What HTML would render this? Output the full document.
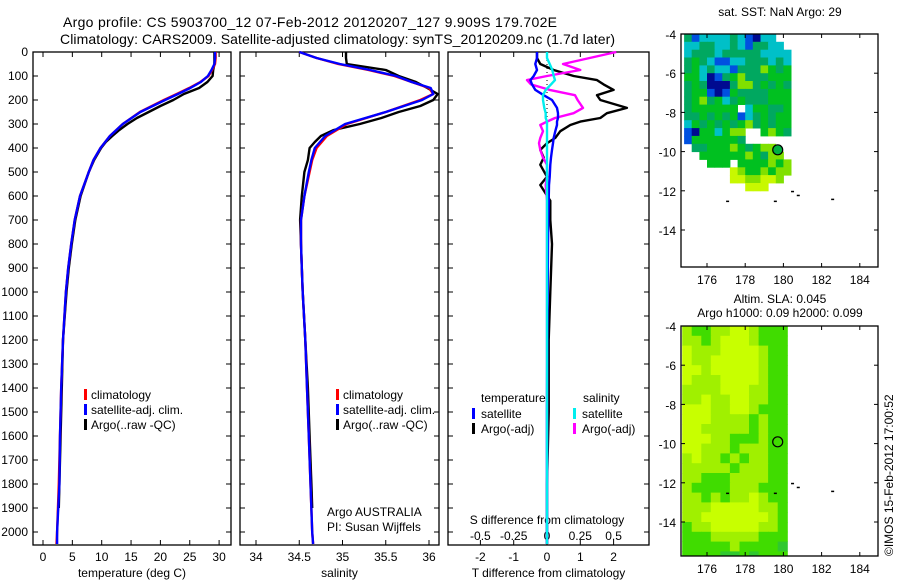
<!DOCTYPE html>
<html><head><meta charset="utf-8"><style>
html,body{margin:0;padding:0;background:#fff;}
svg{display:block;font-family:"Liberation Sans",sans-serif;}
text{fill:#000;}
</style></head><body>
<svg id="fig" width="900" height="580" viewBox="0 0 900 580" xmlns="http://www.w3.org/2000/svg">
<rect width="900" height="580" fill="#fff"/>
<text x="63" y="27" font-size="14" textLength="494">Argo profile: CS 5903700_12 07-Feb-2012 20120207_127 9.909S 179.702E</text>
<text x="60" y="44" font-size="14" textLength="555">Climatology: CARS2009. Satellite-adjusted climatology: synTS_20120209.nc (1.7d later)</text>
<g id="g1"></g>
<g id="g2"></g>
<g id="g3"></g>
<g id="m1"></g>
<g id="m2"></g>
<text transform="translate(893,556) rotate(-90)" font-size="12">©IMOS 15-Feb-2012 17:00:52</text>
</svg>
<script>
// ---- data ----
const depthTicks=[0,100,200,300,400,500,600,700,800,900,1000,1100,1200,1300,1400,1500,1600,1700,1800,1900,2000];
const tempTicks=[0,5,10,15,20,25,30];
const salTicks=[34,34.5,35,35.5,36];
const tdiffTicks=[-2,-1,0,1,2];
const sdiffTicks=[-0.5,-0.25,0,0.25,0.5];
const sdiffTickLabels=["-0.5","-0.25","0","0.25","0.5"];
const depthsClim=[0,25,50,75,100,125,150,175,200,250,300,350,400,450,500,600,700,800,900,1000,1200,1400,1600,1800,2000,2050];
const tempClim=[29.4,29.4,29.3,28.8,28.2,26.8,24.9,22.8,20.6,16.5,13.6,11.4,9.8,8.6,7.8,6.3,5.4,4.8,4.3,3.9,3.4,3.1,2.9,2.7,2.4,2.3];
const tempSat=[29.3,29.3,29.2,28.7,28.1,26.9,25.1,23.0,20.8,16.6,13.6,11.4,9.8,8.6,7.8,6.3,5.4,4.8,4.3,3.9,3.4,3.1,2.9,2.8,2.4,2.4];
const depthsArgo=[0,25,50,75,100,125,150,175,200,225,250,275,300,325,350,375,400,450,500,600,700,800,900,1000,1200,1400,1600,1800,1900];
const tempArgo=[29.2,29.2,29.2,29.0,28.9,28.0,26.6,24.0,22.2,20.0,18.0,16.0,14.4,13.0,11.8,10.7,9.9,8.7,7.8,6.4,5.5,4.9,4.4,4.0,3.4,3.2,3.0,2.8,2.7];
const salClim=[34.5,34.7,34.95,35.3,35.6,35.8,36.0,36.05,35.9,35.5,35.05,34.82,34.7,34.65,34.62,34.56,34.52,34.52,34.53,34.54,34.57,34.59,34.61,34.63,34.65,34.66];
const salSat=[34.5,34.7,34.97,35.32,35.62,35.8,36.02,36.05,35.92,35.5,35.03,34.8,34.68,34.64,34.61,34.56,34.52,34.52,34.53,34.54,34.57,34.59,34.61,34.63,34.65,34.66];
const salArgo=[35.04,35.04,35.05,35.5,35.65,35.85,35.98,36.1,36.05,35.9,35.65,35.45,35.2,34.9,34.75,34.68,34.62,34.6,34.56,34.53,34.51,34.52,34.53,34.54,34.57,34.6,34.62,34.64,34.65];
const depthsDiff=[0,25,50,75,100,117,135,158,180,200,233,255,275,290,304,330,358,380,408,440,470,520,554,620,700,800,1000,1200,1500,1800,2050];
const tdiffSat=[-0.3,-0.3,-0.35,-0.3,-0.4,-0.5,-0.45,-0.35,-0.1,0.15,0.3,0.33,0.33,0.3,0.3,0.25,0.2,0.18,0.15,0.12,0.1,0.08,0.06,0.05,0.04,0.03,0.02,0.01,0.0,0.0,0.0];
const tdiffArgo=[-0.3,-0.3,-0.2,0.2,0.8,1.5,1.7,2.0,1.5,1.6,2.4,1.8,1.6,1.0,0.7,0.4,0.25,0.0,-0.2,-0.1,-0.2,0.0,-0.2,0.1,0.1,0.15,0.1,0.05,0.05,0.0,0.0];
const sdiffSat=[0.0,0.0,0.02,0.04,0.05,0.06,0.03,-0.01,-0.03,-0.03,-0.02,-0.01,-0.01,0.0,0.0,0.0,0.0,0.0,0.0,0.0,0.0,0.0,0.0,0.0,0.0,0.0,0.0,0.0,0.0,0.0,0.0];
const sdiffArgo=[0.52,0.32,0.12,0.25,0.0,-0.15,-0.12,0.02,0.21,0.23,0.27,0.2,0.06,0.0,-0.05,-0.03,-0.05,-0.06,-0.05,-0.03,0.0,0.0,-0.01,0.0,0.0,0.0,0.0,0.0,0.0,0.0,0.0];
// SST map: 0.4 deg cells from lon 174.8, lat -4 downward
const sstRows=["tBcccctcBbcc..","ccttcctcBttcc.","ctttctttttcccc","tgtcBBcctttctc","tgctccBtttlgtg","ggcbBtgltttggg","tgtbbbtlltgtgt","tggBbBgttttggg","tgltgctgtttggg","tgggggg.cggttg","ttgtgtgBctgtgg","cgtgtgtgltgtgg","Bbggcgll..glgt","Bggggggt......",".ttggglgtgll..","..gggggglgtll.","...ggg.gggglgl","......ylgglgll","......yyllyyl.","........yyy..."];
const sstColors={b:"#000a90",B:"#0050e0",c:"#00c0c8",t:"#00a860",g:"#00c020",l:"#80e000",y:"#c8f800"};
// SLA map: 0.5 deg cells from lon 174.7, lat -4 downward
const slaRows=["mGGmmYYmGGG","mmGmYYYmGGG","YmmmYYYYmGG","YmmYYYYYmGG","YYmYYYYYmGG","YmmmYYYYmGG","mmmmYYYmmGG","mmYmmYYmmGG","YYYmmYYmGGG","YYYmmmmGmGG","YYmmmmmGmGG","YYYmmGGGmGG","YYmmmGmmmGG","mYmmGmGmmGG","mmmmmGmmmGG","mmGGGmmmmGG","mGGGGmmmGGG","mmGmGmmYmGG","mmmYYYYYmmG","mmYYYYYYYmG","GmmYYYYYmmG","GGGmmmmmGGG","GGGGGmGGGGD","GGGGDDGDGGG"];
const slaColors={G:"#40dc00",m:"#a0f000",Y:"#c8ff00",D:"#30c830"};
const lonTicks=[176,178,180,182,184];
const latTicks=[-4,-6,-8,-10,-12,-14];
const argoLon=179.702, argoLat=-9.909;

// ---- helpers ----
const NS="http://www.w3.org/2000/svg";
function mk(parent,tag,attrs){const e=document.createElementNS(NS,tag);for(const k in attrs)e.setAttribute(k,attrs[k]);parent.appendChild(e);return e;}
function txt(parent,x,y,s,size,anchor){const t=mk(parent,"text",{x:x,y:y,"font-size":size||12,"text-anchor":anchor||"start"});t.textContent=s;return t;}
const Y=d=>52+d*0.24;
const PT=52,PB=545;

function panel(g,L,R,xs,ticks,labels,title){
  const f=mk(g,"rect",{x:L,y:PT,width:R-L,height:PB-PT,fill:"none",stroke:"#000","stroke-width":1.3});
  
  
  ticks.forEach((v,i)=>{const x=xs(v);
    mk(g,"line",{x1:x,x2:x,y1:PB,y2:PB-5,stroke:"#000"});
    mk(g,"line",{x1:x,x2:x,y1:PT,y2:PT+5,stroke:"#000"});
    const t=txt(g,x,561,labels[i],12,"middle");
    
    });
  depthTicks.forEach(d=>{mk(g,"line",{x1:L,x2:L+5,y1:Y(d),y2:Y(d),stroke:"#000"});mk(g,"line",{x1:R,x2:R-5,y1:Y(d),y2:Y(d),stroke:"#000"});});
  const tt=txt(g,(L+R)/2,577,title,12,"middle");
  
  
}
function line(g,depths,vals,xs,color,name,w){
  const pts=depths.map((d,i)=>xs(vals[i]).toFixed(1)+","+Y(d).toFixed(1)).join(" ");
  const p=mk(g,"polyline",{points:pts,fill:"none",stroke:color,"stroke-width":w||2.4,"stroke-linejoin":"round"});
  
  
}
function legend(g,x,items){
  items.forEach((it,i)=>{const y=398+15*i;
    const b=mk(g,"rect",{x:x,y:y-9,width:3,height:11,fill:it[1]});
    
    
    const t=txt(g,x+7,y+1,it[0],12);
    
    });
}

// ---- panel 1 temperature ----
const g1=document.getElementById("g1");
const xT=v=>43+v*5.87;
panel(g1,33,231,xT,tempTicks,tempTicks.map(String),"temperature (deg C)");
depthTicks.forEach(d=>{const t=txt(g1,28,Y(d)+4,String(d),12,"end");
  
  });
line(g1,depthsArgo,tempArgo,xT,"#000","argo-temperature-line");
line(g1,depthsClim,tempClim,xT,"#f00","climatology-temperature-line");
line(g1,depthsClim,tempSat,xT,"#00f","satellite-temperature-line");
legend(g1,84,[["climatology","#f00"],["satellite-adj. clim.","#00f"],["Argo(..raw -QC)","#000"]]);

// ---- panel 2 salinity ----
const g2=document.getElementById("g2");
const xS=v=>256+(v-34)*86.5;
panel(g2,240,439,xS,salTicks,salTicks.map(String),"salinity");
line(g2,depthsArgo,salArgo,xS,"#000","argo-salinity-line");
line(g2,depthsClim,salClim,xS,"#f00","climatology-salinity-line");
line(g2,depthsClim,salSat,xS,"#00f","satellite-salinity-line");
legend(g2,336,[["climatology","#f00"],["satellite-adj. clim.","#00f"],["Argo(..raw -QC)","#000"]]);
let t2=txt(g2,327,516,"Argo AUSTRALIA",12);
t2=txt(g2,327,531,"PI: Susan Wijffels",12);

// ---- panel 3 differences ----
const g3=document.getElementById("g3");
const xD=v=>547+v*33.3;
const xSD=v=>547+v*133.2;
panel(g3,448,649,xD,tdiffTicks,tdiffTicks.map(String),"T difference from climatology");
const zl=mk(g3,"line",{x1:547,x2:547,y1:PT,y2:PB,stroke:"#000","stroke-dasharray":"1,3"});

sdiffTicks.forEach((v,i)=>{const t=txt(g3,xSD(v),540,sdiffTickLabels[i],12,"middle");
  });
let t3=txt(g3,547,524,"S difference from climatology",12,"middle");
line(g3,depthsDiff,tdiffArgo,xD,"#000","argo-t-diff-line");
line(g3,depthsDiff,sdiffArgo,xSD,"#f0f","argo-s-diff-line");
line(g3,depthsDiff,tdiffSat,xD,"#00f","satellite-t-diff-line");
line(g3,depthsDiff,sdiffSat,xSD,"#0ee","satellite-s-diff-line");
t3=txt(g3,481,402,"temperature",12);
t3=txt(g3,583,402,"salinity",12);
[[472,"satellite","#00f",0],[472,"Argo(-adj)","#000",1],[573,"satellite","#0ee",0],[573,"Argo(-adj)","#f0f",1]].forEach(it=>{
  const y=417+15*it[3];
  const b=mk(g3,"rect",{x:it[0],y:y-9,width:3,height:11,fill:it[2]});
  
  const t=txt(g3,it[0]+9,y+1,it[1],12);
  });

// ---- maps ----
function map(g,top,bottom,rows,colors,cell,lon0,filledCircle){
  const L=681,R=878;
  const X=lon=>707+(lon-176)*19.1;
  const LY=lat=>top+(-4-lat)*19.6;
  rows.forEach((r,i)=>{for(let j=0;j<r.length;j++){const c=colors[r[j]];if(!c)continue;
    const x0=X(lon0+j*cell),y0=LY(-4-i*cell);
    const e=mk(g,"rect",{x:x0.toFixed(1),y:y0.toFixed(1),width:(cell*19.1+0.5).toFixed(1),height:Math.min(cell*19.6+0.5,bottom-y0).toFixed(1),fill:c});
    }});
  const f=mk(g,"rect",{x:L,y:top,width:R-L,height:bottom-top,fill:"none",stroke:"#000","stroke-width":1.3});
  
  lonTicks.forEach(v=>{const x=X(v);mk(g,"line",{x1:x,x2:x,y1:bottom,y2:bottom-4,stroke:"#000"});mk(g,"line",{x1:x,x2:x,y1:top,y2:top+4,stroke:"#000"});
    const t=txt(g,x,bottom+17,String(v),12,"middle");});
  latTicks.forEach(v=>{const y=LY(v);mk(g,"line",{x1:L,x2:L+4,y1:y,y2:y,stroke:"#000"});mk(g,"line",{x1:R,x2:R-4,y1:y,y2:y,stroke:"#000"});
    const t=txt(g,676,y+5,String(v),12,"end");});
  const c=mk(g,"circle",{cx:X(argoLon),cy:LY(argoLat),r:5,fill:filledCircle?"#00b040":"none",stroke:"#000","stroke-width":1.2});
  
  [[180.4,-12],[180.7,-12.2],[182.5,-12.4],[177,-12.5],[179.5,-12.5]].forEach(p=>{
    const m=mk(g,"rect",{x:X(p[0]),y:LY(p[1]),width:3,height:1.5,fill:"#000"});
    });
}
const m1=document.getElementById("m1");
map(m1,34,267,sstRows,sstColors,0.4,174.8,true);
let tm=txt(m1,780,16,"sat. SST: NaN Argo: 29",12,"middle");
const m2=document.getElementById("m2");
map(m2,326,556,slaRows,slaColors,0.5,174.7,false);
tm=txt(m2,780,303,"Altim. SLA: 0.045",12,"middle");
tm=txt(m2,780,317,"Argo h1000: 0.09 h2000: 0.099",12,"middle");
</script>
</body></html>
